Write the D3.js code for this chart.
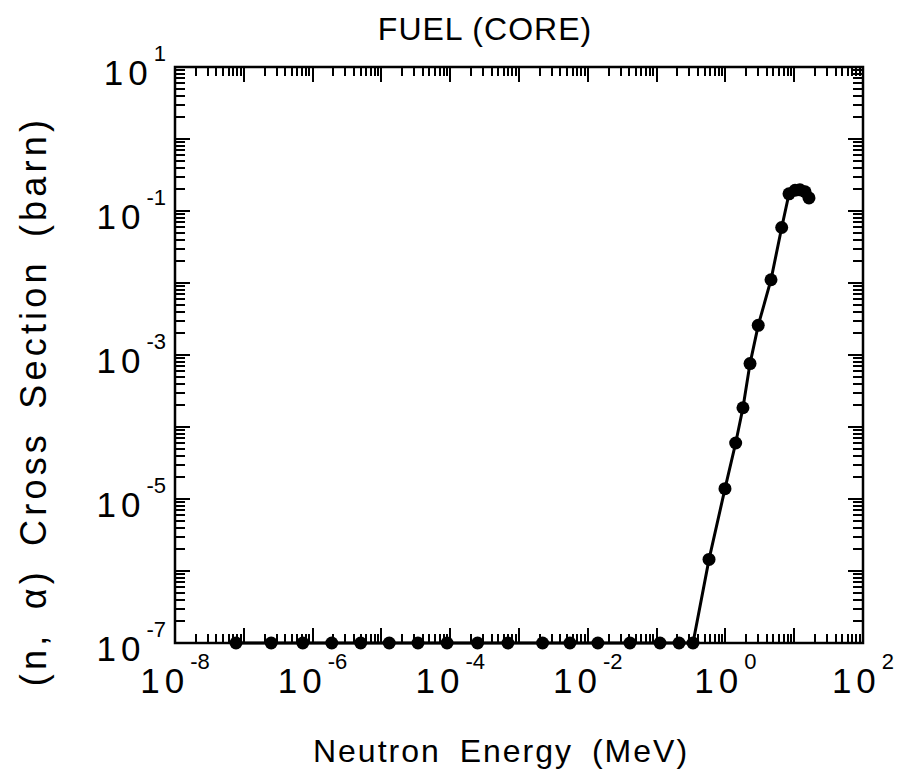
<!DOCTYPE html>
<html>
<head>
<meta charset="utf-8">
<script src="https://cdn.jsdelivr.net/npm/d3@7"></script>
<style>
  html, body { margin: 0; padding: 0; background: #fff; }
  svg { display: block; }
  text { font-family: "Liberation Sans", Arial, Helvetica, sans-serif; fill: #000; }
</style>
</head>
<body>
<svg id="chart" width="901" height="772"></svg>
<script>
// ---- data ----
const title = "FUEL (CORE)";
const xTitle = "Neutron Energy (MeV)";
const yTitle = "(n, \u03B1) Cross Section (barn)";

// neutron energy (MeV)
const energy = [
  7.7e-8, 2.5e-7, 7.2e-7, 1.9e-6, 5.0e-6, 1.3e-5, 3.4e-5, 9.0e-5, 2.5e-4,
  6.9e-4, 2.2e-3, 5.5e-3, 1.4e-2, 4.1e-2, 0.112, 0.212, 0.338,
  0.578, 0.986, 1.41, 1.80, 2.28, 3.0, 4.6, 6.58,
  8.4, 10.3, 12.1, 14.4, 16.4
];
// (n, alpha) cross section (barn)
const crossSection = [
  1e-7, 1e-7, 1e-7, 1e-7, 1e-7, 1e-7, 1e-7, 1e-7, 1e-7,
  1e-7, 1e-7, 1e-7, 1e-7, 1e-7, 1e-7, 1e-7, 1e-7,
  1.45e-6, 1.39e-5, 6.0e-5, 1.85e-4, 7.6e-4, 2.58e-3, 1.11e-2, 5.9e-2,
  0.173, 0.194, 0.197, 0.185, 0.152
];

// axis tick labels (exponents of 10)
const xLabelExps = [-8, -6, -4, -2, 0, 2];
const yLabelExps = [1, -1, -3, -5, -7];

// ---- layout ----
const mLeft = 175, mRight = 863, mTop = 67, mBottom = 643;
const svg = d3.select("#chart");

const x = d3.scaleLog().domain([1e-8, 1e2]).range([mLeft, mRight]);
const y = d3.scaleLog().domain([1e-7, 1e1]).range([mBottom, mTop]);

// decade ticks: majors at 10^n, minors at k*10^n (k = 2..9)
function decadeTicks(lo, hi) {
  const major = [], minor = [];
  for (let n = lo; n <= hi; n++) {
    major.push(Math.pow(10, n));
    if (n < hi) for (let k = 2; k <= 9; k++) minor.push(k * Math.pow(10, n));
  }
  return { major, minor };
}
const xt = decadeTicks(-8, 2);
const yt = decadeTicks(-7, 1);

const tickG = svg.append("g").attr("fill", "#000").attr("shape-rendering", "crispEdges");
function hTicks(vals, len) {
  // ticks on left and right frame
  tickG.append("g").selectAll("rect").data(vals).join("rect")
    .attr("x", mLeft).attr("y", d => Math.round(y(d)) - 1)
    .attr("width", len).attr("height", 2);
  tickG.append("g").selectAll("rect").data(vals).join("rect")
    .attr("x", mRight - len).attr("y", d => Math.round(y(d)) - 1)
    .attr("width", len).attr("height", 2);
}
function vTicks(vals, len) {
  tickG.append("g").selectAll("rect").data(vals).join("rect")
    .attr("x", d => Math.round(x(d)) - 1).attr("y", mBottom - len)
    .attr("width", 2).attr("height", len);
  tickG.append("g").selectAll("rect").data(vals).join("rect")
    .attr("x", d => Math.round(x(d)) - 1).attr("y", mTop)
    .attr("width", 2).attr("height", len);
}
vTicks(xt.major, 15);
vTicks(xt.minor, 9);
hTicks(yt.major, 15);
hTicks(yt.minor, 10);

// frame
svg.append("rect")
  .attr("x", mLeft).attr("y", mTop)
  .attr("width", mRight - mLeft).attr("height", mBottom - mTop)
  .attr("fill", "none").attr("stroke", "#000").attr("stroke-width", 2.5);

// tick labels
function powLabel(sel, exp) {
  sel.append("tspan").text("10").attr("letter-spacing", 5).attr("font-size", 35);
  sel.append("tspan").text(String(exp)).attr("font-size", 22).attr("dy", -24).attr("dx", 1);
}
xLabelExps.forEach(e => {
  const t = svg.append("text")
    .attr("x", x(Math.pow(10, e))).attr("y", 693)
    .attr("text-anchor", "middle");
  powLabel(t, e);
});
yLabelExps.forEach(e => {
  const t = svg.append("text")
    .attr("x", 166).attr("y", y(Math.pow(10, e)) + 18)
    .attr("text-anchor", "end");
  powLabel(t, e);
});

// data line + markers
const pts = energy.map((e, i) => [e, crossSection[i]]);
svg.append("path")
  .datum(pts)
  .attr("fill", "none").attr("stroke", "#000").attr("stroke-width", 3)
  .attr("d", d3.line().x(d => x(d[0])).y(d => y(d[1])));
svg.append("g").selectAll("circle")
  .data(pts).join("circle")
  .attr("cx", d => x(d[0])).attr("cy", d => y(d[1]))
  .attr("r", 6.5).attr("fill", "#000");

// titles
svg.append("text").attr("x", 485).attr("y", 40)
  .attr("text-anchor", "middle").attr("font-size", 32).attr("letter-spacing", 1)
  .text(title);
svg.append("text").attr("x", 501).attr("y", 762)
  .attr("text-anchor", "middle").attr("font-size", 32).attr("letter-spacing", 2)
  .attr("word-spacing", 8)
  .text(xTitle);
svg.append("text")
  .attr("transform", `translate(46,401) rotate(-90)`)
  .attr("text-anchor", "middle").attr("font-size", 36).attr("letter-spacing", 4.2)
  .attr("word-spacing", 8)
  .text(yTitle);
</script>
</body>
</html>
